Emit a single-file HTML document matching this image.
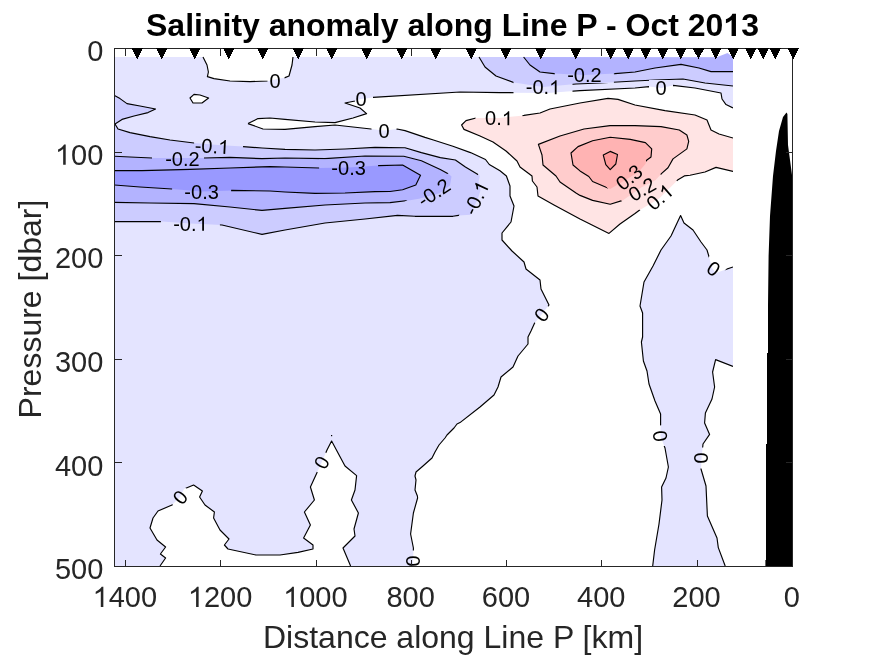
<!DOCTYPE html>
<html><head><meta charset="utf-8"><title>Salinity anomaly along Line P</title>
<style>html,body{margin:0;padding:0;background:#fff}body{width:875px;height:656px;overflow:hidden}svg{display:block;will-change:transform}text{font-family:"Liberation Sans",sans-serif}</style></head><body>
<svg width="875" height="656" viewBox="0 0 875 656">
<rect width="875" height="656" fill="#fff"/>
<defs><clipPath id="cp"><rect x="114.5" y="48.5" width="618.5" height="518.0"/></clipPath>
<mask id="lm" maskUnits="userSpaceOnUse" x="0" y="0" width="875" height="656"><rect width="875" height="656" fill="#fff"/><rect x="267.5" y="73.0" width="17.0" height="16.0" fill="#000" transform="rotate(0 275.0 81.0)"/><rect x="355.0" y="91.0" width="18.0" height="12.5" fill="#000" transform="rotate(0 361.0 99.0)"/><rect x="371.5" y="122.6" width="25.0" height="16.0" fill="#000" transform="rotate(0 384.0 130.6)"/><rect x="649.0" y="80.0" width="24.0" height="16.0" fill="#000" transform="rotate(0 661.0 88.0)"/><rect x="194.0" y="138.0" width="49.0" height="16.0" fill="#000" transform="rotate(3 212.0 146.0)"/><rect x="152.0" y="150.4" width="52.0" height="16.0" fill="#000" transform="rotate(0 182.4 158.4)"/><rect x="319.1" y="159.4" width="59.0" height="16.0" fill="#000" transform="rotate(0 348.6 167.4)"/><rect x="172.1" y="183.6" width="59.0" height="16.0" fill="#000" transform="rotate(0 201.6 191.6)"/><rect x="160.9" y="215.6" width="59.0" height="16.0" fill="#000" transform="rotate(0 190.4 223.6)"/><rect x="404.3" y="184.4" width="59.0" height="16.0" fill="#000" transform="rotate(-33 433.8 192.4)"/><rect x="446.5" y="190.0" width="59.0" height="16.0" fill="#000" transform="rotate(-65 476.0 198.0)"/><rect x="513.5" y="79.0" width="59.0" height="16.0" fill="#000" transform="rotate(0 543.0 87.0)"/><rect x="554.9" y="67.0" width="59.0" height="16.0" fill="#000" transform="rotate(0 584.4 75.0)"/><rect x="475.5" y="110.0" width="47.0" height="16.0" fill="#000" transform="rotate(0 499.0 118.0)"/><rect x="605.4" y="169.1" width="47.0" height="16.0" fill="#000" transform="rotate(-39 628.9 177.1)"/><rect x="618.4" y="181.1" width="47.0" height="16.0" fill="#000" transform="rotate(-30 641.9 189.1)"/><rect x="636.1" y="188.9" width="47.0" height="16.0" fill="#000" transform="rotate(-41 659.6 196.9)"/><rect x="531.1" y="306.6" width="21.0" height="16.0" fill="#000" transform="rotate(-52 541.6 314.6)"/><rect x="703.1" y="260.6" width="21.0" height="16.0" fill="#000" transform="rotate(35 713.6 268.6)"/><rect x="169.5" y="489.0" width="21.0" height="16.0" fill="#000" transform="rotate(-50 180.0 497.0)"/><rect x="311.1" y="454.4" width="21.0" height="16.0" fill="#000" transform="rotate(-62 321.6 462.4)"/><rect x="403.1" y="553.0" width="21.0" height="16.0" fill="#000" transform="rotate(90 413.6 561.0)"/><rect x="649.9" y="428.0" width="21.0" height="16.0" fill="#000" transform="rotate(82 660.4 436.0)"/><rect x="691.1" y="450.0" width="21.0" height="16.0" fill="#000" transform="rotate(90 701.6 458.0)"/></mask></defs>
<g clip-path="url(#cp)">
<rect x="114.5" y="57.0" width="618.5" height="509.5" fill="#e4e4ff"/>
<polygon points="203.0,57.0 207.0,65.0 208.4,72.0 207.4,76.6 214.0,78.6 230.0,81.0 250.0,81.6 268.0,81.0 285.0,77.6 289.0,76.0 292.0,65.0 293.0,57.0" fill="#fff"/>
<polygon points="190.0,98.0 194.0,94.4 200.0,95.0 208.6,98.0 202.0,103.0 193.0,103.0" fill="#fff"/>
<polygon points="248.0,123.6 258.0,118.6 270.0,118.0 285.0,119.4 315.0,122.0 335.0,122.6 353.0,118.0 366.6,113.6 360.0,108.0 345.0,103.0 355.0,101.0 361.0,99.0 373.0,97.4 460.0,92.0 500.0,92.6 548.0,93.0 580.0,90.6 635.0,88.0 649.0,86.6 661.0,88.0 673.0,85.4 695.0,88.0 721.0,93.0 722.0,99.0 726.0,104.6 733.0,108.0 733.0,267.0 723.0,270.4 716.0,273.0 712.0,268.0 709.4,258.0 707.0,250.0 701.0,242.0 693.0,230.0 684.0,223.0 680.6,215.6 678.0,221.0 671.0,236.0 661.0,250.0 653.0,266.0 644.0,282.0 640.0,306.0 642.6,313.0 642.6,337.0 641.4,342.0 643.4,361.0 647.0,371.0 649.0,384.0 655.0,401.0 660.6,414.0 660.6,425.0 660.4,436.0 665.0,448.0 668.4,467.0 666.0,478.0 661.6,487.0 662.0,500.0 659.0,524.0 654.6,550.0 652.7,566.0 413.0,566.0 413.4,548.0 410.6,534.0 413.4,513.0 417.6,498.0 417.4,496.0 415.0,490.0 416.0,480.0 415.0,476.0 416.0,472.0 423.0,466.0 432.0,458.0 435.0,452.0 439.0,445.0 445.0,438.0 447.0,435.0 454.0,428.0 457.0,424.0 460.0,422.6 480.0,407.0 494.0,395.0 498.0,387.0 501.0,377.0 513.0,367.0 518.0,356.0 528.0,344.0 528.0,337.0 531.0,331.0 534.4,323.4 541.6,314.6 549.0,305.0 541.0,289.0 540.0,280.0 526.0,269.0 524.0,262.0 512.0,251.0 502.0,240.0 502.0,233.0 511.0,222.0 514.0,206.0 510.0,196.0 510.0,186.0 506.4,176.0 500.0,170.8 489.3,164.5 485.5,159.5 470.5,152.6 452.9,146.3 433.4,140.0 425.0,137.4 405.0,130.6 397.0,129.0 384.0,130.6 371.0,129.0 335.0,125.0 315.0,126.6 285.0,129.4 263.0,129.0 248.0,123.6" fill="#fff"/>
<polygon points="733.0,366.4 715.6,359.6 712.6,372.0 714.6,387.0 712.0,399.0 705.4,413.0 704.6,423.0 709.6,434.4 703.0,444.0 701.6,458.0 701.0,469.0 706.0,486.0 707.4,516.0 717.0,538.0 718.3,547.6 725.2,566.0 733.0,566.0" fill="#fff"/>
<polygon points="160.0,566.0 165.6,558.0 160.4,554.0 165.6,547.0 157.0,540.0 150.0,528.0 153.0,518.0 158.0,511.0 172.0,505.0 180.0,497.0 184.0,489.0 193.6,485.0 202.4,491.0 199.6,497.0 205.0,505.0 214.4,512.0 213.6,518.0 220.0,530.0 229.0,539.0 224.4,545.0 228.0,549.0 256.0,555.0 280.0,555.0 298.0,552.4 313.0,549.0 313.0,545.0 303.6,538.0 310.4,525.0 304.4,512.0 314.4,500.0 310.4,487.0 316.6,473.6 321.6,462.4 327.0,450.0 331.6,441.0 345.0,466.0 356.6,475.6 355.0,490.0 351.4,500.0 358.4,513.0 354.0,529.0 355.0,536.0 343.0,548.0 350.6,566.0" fill="#fff"/>
<polygon points="114.5,95.6 120.0,98.6 127.0,103.6 140.0,106.0 155.6,109.0 148.0,112.6 134.0,116.0 122.0,119.4 115.0,124.0 118.0,129.0 130.0,132.6 150.0,136.6 170.0,140.0 194.0,143.0 218.0,145.0 243.0,146.6 262.0,148.0 285.0,149.4 315.0,150.0 345.0,149.0 375.0,147.4 405.0,147.8 421.4,152.6 440.3,157.6 455.4,160.0 465.4,167.0 476.7,173.7 479.9,175.8 478.6,181.5 480.5,190.3 478.0,198.5 470.5,214.8 458.5,215.4 452.9,216.3 415.0,216.3 397.5,215.4 365.0,219.0 325.0,223.0 285.0,230.0 262.0,234.4 222.0,225.0 190.4,223.6 162.0,221.6 114.5,221.6" fill="#ccccff"/>
<polygon points="114.5,156.2 130.0,157.0 152.0,158.0 204.0,158.0 230.0,157.4 262.0,158.6 285.0,158.0 325.0,158.6 365.0,156.0 403.8,156.3 421.4,160.7 440.3,169.5 449.0,174.2 451.5,176.5 450.0,185.5 439.5,193.3 419.0,198.8 410.0,200.2 390.0,202.6 365.0,203.0 325.0,205.0 285.0,208.4 262.0,210.4 230.0,207.0 194.0,203.6 150.0,203.0 114.5,202.4" fill="#b3b3ff"/>
<polygon points="114.5,170.6 142.0,170.6 190.0,169.4 230.0,168.0 270.0,166.6 285.0,167.0 319.0,168.0 348.6,167.4 379.0,165.6 402.6,165.0 420.5,175.2 415.8,185.0 402.6,189.7 390.0,191.5 375.0,191.6 345.0,193.0 315.0,193.4 285.0,192.0 270.0,191.0 232.0,190.4 201.6,191.6 172.0,189.0 140.0,187.0 114.5,185.0" fill="#9999ff"/>
<polygon points="479.0,57.0 485.0,67.0 496.0,76.0 514.0,82.6 543.0,87.0 576.0,84.0 600.0,83.0 635.0,81.0 655.0,80.0 683.0,79.0 705.0,83.0 733.0,86.0 733.0,57.0" fill="#ccccff"/>
<polygon points="523.6,57.0 530.0,65.0 540.0,72.0 554.0,73.6 584.4,75.0 615.0,73.6 635.0,72.0 655.0,68.0 681.0,64.4 699.0,68.0 711.0,71.6 733.0,71.6 733.0,57.0 727.5,53.0 716.0,57.4" fill="#b3b3ff"/>
<polygon points="733.0,138.0 719.0,134.0 711.0,130.0 707.0,120.0 695.0,115.0 665.0,110.6 635.0,105.0 618.0,99.4 608.0,98.4 580.0,103.0 550.0,109.0 540.0,113.0 524.0,115.4 499.0,118.0 476.0,118.0 466.0,120.6 461.6,125.0 464.0,129.4 480.0,136.0 493.0,142.0 506.0,151.0 517.0,161.0 520.0,167.0 532.0,176.0 532.4,181.0 537.0,187.0 538.0,196.0 554.0,205.0 580.0,219.0 609.0,233.4 620.0,224.0 635.0,213.5 639.0,210.5 659.2,198.5 678.0,179.7 684.3,175.9 690.0,175.3 705.0,172.0 716.0,167.4 733.0,171.4" fill="#ffe4e4"/>
<polygon points="538.4,144.4 560.0,136.0 584.0,129.0 610.0,125.6 635.0,125.6 661.0,126.6 679.3,130.0 686.9,135.0 688.7,141.3 686.9,148.9 673.0,158.9 668.0,167.7 661.7,173.4 655.4,180.3 641.6,187.2 622.7,200.4 610.2,204.2 592.6,200.4 580.0,195.4 576.0,193.0 560.0,182.0 556.0,176.0 543.0,165.0 542.0,155.0" fill="#ffcccc"/>
<polygon points="571.0,153.0 578.0,146.6 592.6,140.7 610.2,137.3 630.3,139.4 645.4,142.6 651.7,148.9 651.0,157.0 646.6,160.2 645.4,164.0 639.0,171.5 630.3,177.0 610.2,189.0 592.6,181.5 588.8,176.5 580.0,170.9 573.0,165.0" fill="#ffb3b3"/>
<polygon points="603.3,155.1 610.2,151.4 617.5,154.5 615.8,164.0 610.2,169.6 605.8,164.6" fill="#ff9999"/>
</g>
<g clip-path="url(#cp)"><g mask="url(#lm)" fill="none" stroke="#000" stroke-width="1.15" stroke-linejoin="round">
<polyline points="203.0,57.0 207.0,65.0 208.4,72.0 207.4,76.6 214.0,78.6 230.0,81.0 250.0,81.6 268.0,81.0 285.0,77.6 289.0,76.0 292.0,65.0 293.0,57.0"/>
<polygon points="190.0,98.0 194.0,94.4 200.0,95.0 208.6,98.0 202.0,103.0 193.0,103.0"/>
<polyline points="248.0,123.6 258.0,118.6 270.0,118.0 285.0,119.4 315.0,122.0 335.0,122.6 353.0,118.0 366.6,113.6 360.0,108.0 345.0,103.0 355.0,101.0 361.0,99.0 373.0,97.4 460.0,92.0 500.0,92.6 548.0,93.0 580.0,90.6 635.0,88.0 649.0,86.6 661.0,88.0 673.0,85.4 695.0,88.0 721.0,93.0 722.0,99.0 726.0,104.6 733.0,108.0"/>
<polyline points="733.0,267.0 723.0,270.4 716.0,273.0 712.0,268.0 709.4,258.0 707.0,250.0 701.0,242.0 693.0,230.0 684.0,223.0 680.6,215.6 678.0,221.0 671.0,236.0 661.0,250.0 653.0,266.0 644.0,282.0 640.0,306.0 642.6,313.0 642.6,337.0 641.4,342.0 643.4,361.0 647.0,371.0 649.0,384.0 655.0,401.0 660.6,414.0 660.6,425.0 660.4,436.0 665.0,448.0 668.4,467.0 666.0,478.0 661.6,487.0 662.0,500.0 659.0,524.0 654.6,550.0 652.7,566.0"/>
<polyline points="413.0,566.0 413.4,548.0 410.6,534.0 413.4,513.0 417.6,498.0 417.4,496.0 415.0,490.0 416.0,480.0 415.0,476.0 416.0,472.0 423.0,466.0 432.0,458.0 435.0,452.0 439.0,445.0 445.0,438.0 447.0,435.0 454.0,428.0 457.0,424.0 460.0,422.6 480.0,407.0 494.0,395.0 498.0,387.0 501.0,377.0 513.0,367.0 518.0,356.0 528.0,344.0 528.0,337.0 531.0,331.0 534.4,323.4 541.6,314.6 549.0,305.0 541.0,289.0 540.0,280.0 526.0,269.0 524.0,262.0 512.0,251.0 502.0,240.0 502.0,233.0 511.0,222.0 514.0,206.0 510.0,196.0 510.0,186.0 506.4,176.0 500.0,170.8 489.3,164.5 485.5,159.5 470.5,152.6 452.9,146.3 433.4,140.0 425.0,137.4 405.0,130.6 397.0,129.0 384.0,130.6 371.0,129.0 335.0,125.0 315.0,126.6 285.0,129.4 263.0,129.0 248.0,123.6"/>
<polyline points="733.0,366.4 715.6,359.6 712.6,372.0 714.6,387.0 712.0,399.0 705.4,413.0 704.6,423.0 709.6,434.4 703.0,444.0 701.6,458.0 701.0,469.0 706.0,486.0 707.4,516.0 717.0,538.0 718.3,547.6 725.2,566.0"/>
<polyline points="160.0,566.0 165.6,558.0 160.4,554.0 165.6,547.0 157.0,540.0 150.0,528.0 153.0,518.0 158.0,511.0 172.0,505.0 180.0,497.0 184.0,489.0 193.6,485.0 202.4,491.0 199.6,497.0 205.0,505.0 214.4,512.0 213.6,518.0 220.0,530.0 229.0,539.0 224.4,545.0 228.0,549.0 256.0,555.0 280.0,555.0 298.0,552.4 313.0,549.0 313.0,545.0 303.6,538.0 310.4,525.0 304.4,512.0 314.4,500.0 310.4,487.0 316.6,473.6 321.6,462.4 327.0,450.0 331.6,441.0 345.0,466.0 356.6,475.6 355.0,490.0 351.4,500.0 358.4,513.0 354.0,529.0 355.0,536.0 343.0,548.0 350.6,566.0"/>
<polyline points="114.5,95.6 120.0,98.6 127.0,103.6 140.0,106.0 155.6,109.0 148.0,112.6 134.0,116.0 122.0,119.4 115.0,124.0 118.0,129.0 130.0,132.6 150.0,136.6 170.0,140.0 194.0,143.0 218.0,145.0 243.0,146.6 262.0,148.0 285.0,149.4 315.0,150.0 345.0,149.0 375.0,147.4 405.0,147.8 421.4,152.6 440.3,157.6 455.4,160.0 465.4,167.0 476.7,173.7 479.9,175.8 478.6,181.5 480.5,190.3 478.0,198.5 470.5,214.8 458.5,215.4 452.9,216.3 415.0,216.3 397.5,215.4 365.0,219.0 325.0,223.0 285.0,230.0 262.0,234.4 222.0,225.0 190.4,223.6 162.0,221.6 114.5,221.6"/>
<polyline points="114.5,156.2 130.0,157.0 152.0,158.0 204.0,158.0 230.0,157.4 262.0,158.6 285.0,158.0 325.0,158.6 365.0,156.0 403.8,156.3 421.4,160.7 440.3,169.5 449.0,174.2 451.5,176.5 450.0,185.5 439.5,193.3 419.0,198.8 410.0,200.2 390.0,202.6 365.0,203.0 325.0,205.0 285.0,208.4 262.0,210.4 230.0,207.0 194.0,203.6 150.0,203.0 114.5,202.4"/>
<polyline points="114.5,170.6 142.0,170.6 190.0,169.4 230.0,168.0 270.0,166.6 285.0,167.0 319.0,168.0 348.6,167.4 379.0,165.6 402.6,165.0 420.5,175.2 415.8,185.0 402.6,189.7 390.0,191.5 375.0,191.6 345.0,193.0 315.0,193.4 285.0,192.0 270.0,191.0 232.0,190.4 201.6,191.6 172.0,189.0 140.0,187.0 114.5,185.0"/>
<polyline points="479.0,57.0 485.0,67.0 496.0,76.0 514.0,82.6 543.0,87.0 576.0,84.0 600.0,83.0 635.0,81.0 655.0,80.0 683.0,79.0 705.0,83.0 733.0,86.0"/>
<polyline points="523.6,57.0 530.0,65.0 540.0,72.0 554.0,73.6 584.4,75.0 615.0,73.6 635.0,72.0 655.0,68.0 681.0,64.4 699.0,68.0 711.0,71.6 733.0,71.6"/>
<polyline points="733.0,138.0 719.0,134.0 711.0,130.0 707.0,120.0 695.0,115.0 665.0,110.6 635.0,105.0 618.0,99.4 608.0,98.4 580.0,103.0 550.0,109.0 540.0,113.0 524.0,115.4 499.0,118.0 476.0,118.0 466.0,120.6 461.6,125.0 464.0,129.4 480.0,136.0 493.0,142.0 506.0,151.0 517.0,161.0 520.0,167.0 532.0,176.0 532.4,181.0 537.0,187.0 538.0,196.0 554.0,205.0 580.0,219.0 609.0,233.4 620.0,224.0 635.0,213.5 639.0,210.5 659.2,198.5 678.0,179.7 684.3,175.9 690.0,175.3 705.0,172.0 716.0,167.4 733.0,171.4"/>
<polygon points="538.4,144.4 560.0,136.0 584.0,129.0 610.0,125.6 635.0,125.6 661.0,126.6 679.3,130.0 686.9,135.0 688.7,141.3 686.9,148.9 673.0,158.9 668.0,167.7 661.7,173.4 655.4,180.3 641.6,187.2 622.7,200.4 610.2,204.2 592.6,200.4 580.0,195.4 576.0,193.0 560.0,182.0 556.0,176.0 543.0,165.0 542.0,155.0"/>
<polygon points="571.0,153.0 578.0,146.6 592.6,140.7 610.2,137.3 630.3,139.4 645.4,142.6 651.7,148.9 651.0,157.0 646.6,160.2 645.4,164.0 639.0,171.5 630.3,177.0 610.2,189.0 592.6,181.5 588.8,176.5 580.0,170.9 573.0,165.0"/>
<polygon points="603.3,155.1 610.2,151.4 617.5,154.5 615.8,164.0 610.2,169.6 605.8,164.6"/>
</g></g>
<rect x="331" y="435" width="1.2" height="1.2" fill="#000"/>
<g fill="#000"><text y="88.20" font-size="20"><tspan x="269.44">0</tspan></text></g>
<g fill="#000"><text y="106.20" font-size="20"><tspan x="355.44">0</tspan></text></g>
<g fill="#000"><text y="137.80" font-size="20"><tspan x="378.44">0</tspan></text></g>
<g fill="#000"><text y="95.20" font-size="20"><tspan x="655.44">0</tspan></text></g>
<g fill="#000" transform="rotate(3 212.0 146.0)"><text y="153.20" font-size="20"><tspan x="194.77">-0.</tspan></text><path transform="translate(218.11 153.20) scale(0.00977 0.00947)" d="M763 0H583V-1147Q518 -1085 412.5 -1023T223 -930V-1104Q374 -1175 487 -1276T647 -1472H763Z"/></g>
<g fill="#000"><text y="165.60" font-size="20"><tspan x="165.17">-0.2</tspan></text></g>
<g fill="#000"><text y="174.60" font-size="20"><tspan x="331.37">-0.3</tspan></text></g>
<g fill="#000"><text y="198.80" font-size="20"><tspan x="184.37">-0.3</tspan></text></g>
<g fill="#000"><text y="230.80" font-size="20"><tspan x="173.17">-0.</tspan></text><path transform="translate(196.51 230.80) scale(0.00977 0.00947)" d="M763 0H583V-1147Q518 -1085 412.5 -1023T223 -930V-1104Q374 -1175 487 -1276T647 -1472H763Z"/></g>
<g fill="#000" transform="rotate(-33 433.8 192.4)"><text y="199.60" font-size="20"><tspan x="416.57">-0.2</tspan></text></g>
<g fill="#000" transform="rotate(-65 476.0 198.0)"><text y="205.20" font-size="20"><tspan x="458.77">-0.</tspan></text><path transform="translate(482.11 205.20) scale(0.00977 0.00947)" d="M763 0H583V-1147Q518 -1085 412.5 -1023T223 -930V-1104Q374 -1175 487 -1276T647 -1472H763Z"/></g>
<g fill="#000"><text y="94.20" font-size="20"><tspan x="525.77">-0.</tspan></text><path transform="translate(549.11 94.20) scale(0.00977 0.00947)" d="M763 0H583V-1147Q518 -1085 412.5 -1023T223 -930V-1104Q374 -1175 487 -1276T647 -1472H763Z"/></g>
<g fill="#000"><text y="82.20" font-size="20"><tspan x="567.17">-0.2</tspan></text></g>
<g fill="#000"><text y="125.20" font-size="20"><tspan x="485.10">0.</tspan></text><path transform="translate(501.78 125.20) scale(0.00977 0.00947)" d="M763 0H583V-1147Q518 -1085 412.5 -1023T223 -930V-1104Q374 -1175 487 -1276T647 -1472H763Z"/></g>
<g fill="#000" transform="rotate(-39 628.9 177.1)"><text y="184.30" font-size="20"><tspan x="615.00">0.3</tspan></text></g>
<g fill="#000" transform="rotate(-30 641.9 189.1)"><text y="196.30" font-size="20"><tspan x="628.00">0.2</tspan></text></g>
<g fill="#000" transform="rotate(-41 659.6 196.9)"><text y="204.10" font-size="20"><tspan x="645.70">0.</tspan></text><path transform="translate(662.38 204.10) scale(0.00977 0.00947)" d="M763 0H583V-1147Q518 -1085 412.5 -1023T223 -930V-1104Q374 -1175 487 -1276T647 -1472H763Z"/></g>
<g fill="#000" transform="rotate(-52 541.6 314.6)"><text y="321.80" font-size="20"><tspan x="536.04">0</tspan></text></g>
<g fill="#000" transform="rotate(35 713.6 268.6)"><text y="275.80" font-size="20"><tspan x="708.04">0</tspan></text></g>
<g fill="#000" transform="rotate(-50 180.0 497.0)"><text y="504.20" font-size="20"><tspan x="174.44">0</tspan></text></g>
<g fill="#000" transform="rotate(-62 321.6 462.4)"><text y="469.60" font-size="20"><tspan x="316.04">0</tspan></text></g>
<g fill="#000" transform="rotate(90 413.6 561.0)"><text y="568.20" font-size="20"><tspan x="408.04">0</tspan></text></g>
<g fill="#000" transform="rotate(82 660.4 436.0)"><text y="443.20" font-size="20"><tspan x="654.84">0</tspan></text></g>
<g fill="#000" transform="rotate(90 701.6 458.0)"><text y="465.20" font-size="20"><tspan x="696.04">0</tspan></text></g>
<polygon points="786.5,112.5 783.0,117.0 779.0,131.0 776.0,151.0 773.0,176.0 770.0,216.0 768.6,256.0 768.0,306.0 768.0,353.0 767.0,353.0 767.0,444.0 766.0,444.0 766.0,560.0 765.4,560.0 765.4,566.0 792.5,566.0 792.5,176.0 792.0,175.0 788.0,145.0 787.4,114.0" fill="#000"/>
<rect x="114.5" y="48.5" width="678.0" height="518.0" fill="none" stroke="#262626" stroke-width="1" shape-rendering="crispEdges"/>
<path d="M125.5 566.5v-7M125.5 48.5v7M220.8 566.5v-7M220.8 48.5v7M316.1 566.5v-7M316.1 48.5v7M411.4 566.5v-7M411.4 48.5v7M506.6 566.5v-7M506.6 48.5v7M601.9 566.5v-7M601.9 48.5v7M697.2 566.5v-7M697.2 48.5v7M792.5 566.5v-7M792.5 48.5v7M114.5 48.5h7M792.5 48.5h-7M114.5 152.1h7M792.5 152.1h-7M114.5 255.7h7M792.5 255.7h-7M114.5 359.3h7M792.5 359.3h-7M114.5 462.9h7M792.5 462.9h-7M114.5 566.5h7M792.5 566.5h-7" stroke="#262626" stroke-width="1" fill="none" shape-rendering="crispEdges"/>
<path d="M131.5 48.0h11.6l-5.8 11.4zM156.1 48.0h11.6l-5.8 11.4zM188.9 48.0h11.6l-5.8 11.4zM222.9 48.0h11.6l-5.8 11.4zM256.9 48.0h11.6l-5.8 11.4zM292.5 48.0h11.6l-5.8 11.4zM325.9 48.0h11.6l-5.8 11.4zM361.1 48.0h11.6l-5.8 11.4zM396.1 48.0h11.6l-5.8 11.4zM429.9 48.0h11.6l-5.8 11.4zM465.5 48.0h11.6l-5.8 11.4zM500.1 48.0h11.6l-5.8 11.4zM535.1 48.0h11.6l-5.8 11.4zM570.1 48.0h11.6l-5.8 11.4zM604.9 48.0h11.6l-5.8 11.4zM622.5 48.0h11.6l-5.8 11.4zM639.9 48.0h11.6l-5.8 11.4zM657.1 48.0h11.6l-5.8 11.4zM675.1 48.0h11.6l-5.8 11.4zM692.7 48.0h11.6l-5.8 11.4zM710.1 48.0h11.6l-5.8 11.4zM727.5 48.0h11.6l-5.8 11.4zM745.1 48.0h11.6l-5.8 11.4zM757.5 48.0h11.6l-5.8 11.4zM769.5 48.0h11.6l-5.8 11.4zM787.5 48.0h11.6l-5.8 11.4z" fill="#000" shape-rendering="crispEdges"/>
<g fill="#262626"><text y="606.90" font-size="29"><tspan x="108.67">400</tspan></text><path transform="translate(92.54 606.90) scale(0.01416 0.01374)" d="M763 0H583V-1147Q518 -1085 412.5 -1023T223 -930V-1104Q374 -1175 487 -1276T647 -1472H763Z"/></g>
<g fill="#262626"><text y="606.90" font-size="29"><tspan x="203.96">200</tspan></text><path transform="translate(187.83 606.90) scale(0.01416 0.01374)" d="M763 0H583V-1147Q518 -1085 412.5 -1023T223 -930V-1104Q374 -1175 487 -1276T647 -1472H763Z"/></g>
<g fill="#262626"><text y="606.90" font-size="29"><tspan x="299.24">000</tspan></text><path transform="translate(283.11 606.90) scale(0.01416 0.01374)" d="M763 0H583V-1147Q518 -1085 412.5 -1023T223 -930V-1104Q374 -1175 487 -1276T647 -1472H763Z"/></g>
<g fill="#262626"><text y="606.90" font-size="29"><tspan x="386.46">800</tspan></text></g>
<g fill="#262626"><text y="606.90" font-size="29"><tspan x="481.75">600</tspan></text></g>
<g fill="#262626"><text y="606.90" font-size="29"><tspan x="577.04">400</tspan></text></g>
<g fill="#262626"><text y="606.90" font-size="29"><tspan x="672.32">200</tspan></text></g>
<g fill="#262626"><text y="606.90" font-size="29"><tspan x="783.74">0</tspan></text></g>
<g fill="#262626"><text y="61.10" font-size="29"><tspan x="87.17">0</tspan></text></g>
<g fill="#262626"><text y="164.70" font-size="29"><tspan x="71.04">00</tspan></text><path transform="translate(54.91 164.70) scale(0.01416 0.01374)" d="M763 0H583V-1147Q518 -1085 412.5 -1023T223 -930V-1104Q374 -1175 487 -1276T647 -1472H763Z"/></g>
<g fill="#262626"><text y="268.30" font-size="29"><tspan x="54.91">200</tspan></text></g>
<g fill="#262626"><text y="371.90" font-size="29"><tspan x="54.91">300</tspan></text></g>
<g fill="#262626"><text y="475.50" font-size="29"><tspan x="54.91">400</tspan></text></g>
<g fill="#262626"><text y="579.10" font-size="29"><tspan x="54.91">500</tspan></text></g>
<text x="453" y="648.2" font-size="32" text-anchor="middle" fill="#262626">Distance along Line P [km]</text>
<text transform="translate(41.1 309) rotate(-90)" font-size="32" text-anchor="middle" fill="#262626">Pressure [dbar]</text>
<g fill="#000"><text y="36.00" font-size="32" font-weight="bold"><tspan x="146.03">Salinity anomaly along Line P - Oct 20</tspan><tspan x="741.18">3</tspan></text><path transform="translate(723.38 36.00) scale(0.01562 0.01516)" d="M806 0H525V-1059Q371 -915 162 -846V-1101Q272 -1137 401 -1237.5T578 -1472H806Z"/></g>
</svg></body></html>
